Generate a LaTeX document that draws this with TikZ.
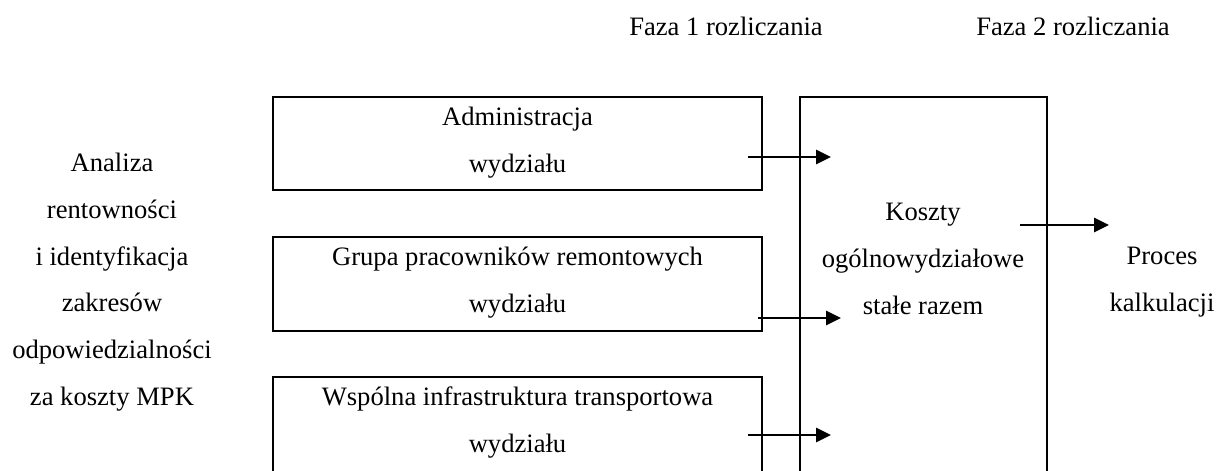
\documentclass[tikz,border=0pt]{standalone}
\usepackage{fontspec}
\setmainfont{Liberation Serif}
\usetikzlibrary{arrows.meta}
\begin{document}
\begin{tikzpicture}[x=1pt,y=-1pt,
  txt/.style={font=\fontsize{26.6}{46.7}\selectfont, align=center, inner sep=0pt},
  costbox/.style={draw, line width=1.6pt, minimum width=489pt, inner sep=0pt},
  bigbox/.style={draw, line width=1.6pt, minimum width=247pt, inner sep=0pt},
  arr/.style={line width=2.6pt, -{Triangle[length=15pt,width=14pt]}}]
  \useasboundingbox (0,0) rectangle (1223,471);
  \clip (0,0) rectangle (1223,471);

  % phase headers
  \node[txt] (f1) at (726,26) {Faza 1 rozliczania};
  \node[txt] (f2) at (1073,26) {Faza 2 rozliczania};

  % left description
  \node[txt] (left) at (112,282) {Analiza\\rentowności\\i identyfikacja\\zakresów\\odpowiedzialności\\za koszty MPK};

  % phase 1 cost boxes
  \node[costbox, minimum height=93pt] (b1) at (517.5,143.5) {};
  \node[txt] (t1) at (517.5,142.5) {Administracja\\wydziału};
  \node[costbox, minimum height=94pt] (b2) at (517.5,284) {};
  \node[txt] (t2) at (517.5,282.5) {Grupa pracowników remontowych\\wydziału};
  \node[costbox, minimum height=110pt] (b3) at (517.5,432) {};
  \node[txt] (t3) at (517.5,422.5) {Wspólna infrastruktura transportowa\\wydziału};

  % phase 2 box
  \node[bigbox, minimum height=393pt] (big) at (923.5,293.5) {};
  \node[txt] (k) at (923,259) {Koszty\\ogólnowydziałowe\\stałe razem};

  % output
  \node[txt] (p) at (1162,282) {Proces\\kalkulacji};

  % arrow ends
  \coordinate (s1) at (748,157);  \coordinate (e1) at (831,157);
  \coordinate (s2) at (758,318);  \coordinate (e2) at (841,318);
  \coordinate (s3) at (748,435);  \coordinate (e3) at (831,435);
  \coordinate (s4) at (1020,225); \coordinate (e4) at (1109,225);

  \draw[arr] (s1) -- (e1);
  \draw[arr] (s2) -- (e2);
  \draw[arr] (s3) -- (e3);
  \draw[arr] (s4) -- (e4);
\end{tikzpicture}
\end{document}
